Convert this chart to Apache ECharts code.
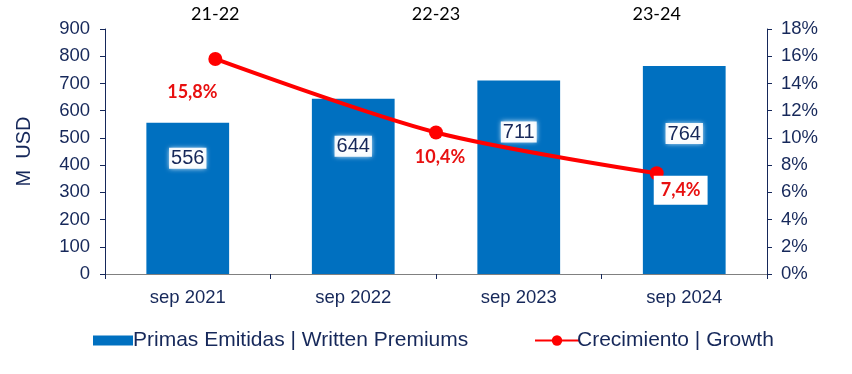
<!DOCTYPE html>
<html>
<head>
<meta charset="utf-8">
<script src="https://cdn.jsdelivr.net/npm/echarts@6/dist/echarts.min.js"></script>
<style>html,body{margin:0;padding:0;background:#fff}#c{width:852px;height:374px}</style>
</head>
<body>
<div id="c"></div>
<script>
const categories = ['sep 2021', 'sep 2022', 'sep 2023', 'sep 2024'];
const periods = ['21-22', '22-23', '23-24'];
const premiums = [556, 644, 711, 764];
const growth = [0.158, 0.104, 0.074];
const barName = 'Primas Emitidas | Written Premiums';
const lineName = 'Crecimiento | Growth';

const navy = '#16285a';
const blue = '#0070c0';
const red = '#ff0000';

const barLabelDist = [25, 37, 41, 57];
const lineLabelOffsets = [[-23, 33], [4, 25], [24, 17]];

const chart = echarts.init(document.getElementById('c'), null, {renderer: 'canvas'});
const fmtPct = v => (v * 100).toFixed(1).replace('.', ',') + '%';

chart.setOption({
  animation: false,
  backgroundColor: '#fff',
  grid: {left: 105, right: 85, top: 29, bottom: 100},
  legend: [
    {left: 88, top: 325, itemWidth: 40, itemHeight: 10, itemGap: 0,
     data: [{name: barName, icon: 'rect'}],
     textStyle: {fontFamily: 'Liberation Sans, Arial', fontSize: 21, color: navy, padding: [0, 0, 0, -5]}},
    {left: 529, top: 325, itemWidth: 44, itemHeight: 13, itemGap: 0,
     data: [lineName],
     textStyle: {fontFamily: 'Liberation Sans, Arial', fontSize: 21, color: navy, padding: [0, 0, 0, -7]}}
  ],
  xAxis: [
    {type: 'category', data: categories, position: 'bottom',
     axisLine: {lineStyle: {color: navy, width: 1}},
     axisTick: {show: true, length: 5, lineStyle: {color: navy}},
     axisLabel: {fontFamily: 'Liberation Sans, Arial', fontSize: 18.5, color: navy, margin: 14}},
    {type: 'category', data: periods, position: 'top',
     axisLine: {lineStyle: {color: '#808080', width: 1}},
     axisTick: {show: false},
     axisLabel: {fontFamily: 'Lato', fontSize: 18, color: '#000', margin: 6}}
  ],
  yAxis: [
    {type: 'value', min: 0, max: 900, interval: 100, position: 'left',
     name: 'M  USD', nameLocation: 'middle', nameRotate: 90, nameGap: 71,
     nameTextStyle: {fontFamily: 'Liberation Sans, Arial', fontSize: 20, color: navy},
     axisLine: {show: true, lineStyle: {color: navy, width: 1}},
     axisTick: {show: true, length: 5, lineStyle: {color: navy}},
     splitLine: {show: false},
     axisLabel: {fontFamily: 'Liberation Sans, Arial', fontSize: 18.5, color: navy, margin: 15}},
    {type: 'value', min: 0, max: 0.18, interval: 0.02, position: 'right',
     axisLine: {show: true, lineStyle: {color: navy, width: 1}},
     axisTick: {show: true, length: 5, lineStyle: {color: navy}},
     splitLine: {show: false},
     axisLabel: {fontFamily: 'Liberation Sans, Arial', fontSize: 18.5, color: navy, margin: 14,
       formatter: v => Math.round(v * 100) + '%'}}
  ],
  series: [
    {name: barName, type: 'bar', xAxisIndex: 0, yAxisIndex: 0, barWidth: '50%',
     itemStyle: {color: blue},
     data: premiums.map((v, i) => ({value: v,
       label: {show: true, position: 'insideTop', distance: barLabelDist[i]}})),
     label: {fontFamily: 'Liberation Sans, Arial', fontSize: 20, color: navy,
       backgroundColor: 'rgba(255,255,255,0.92)', padding: [1, 2, 0, 2],
       shadowColor: '#ffffff', shadowBlur: 5}},
    {name: lineName, type: 'line', xAxisIndex: 1, yAxisIndex: 1, smooth: 0.3,
     symbol: 'circle', symbolSize: 14,
     lineStyle: {color: red, width: 4}, itemStyle: {color: red},
     data: growth.map((v, i) => ({value: v,
       label: {show: true, position: 'inside', offset: lineLabelOffsets[i],
         backgroundColor: i === 2 ? '#fff' : 'transparent',
         padding: i === 2 ? [6, 7, 5, 7] : 0}})),
     label: {formatter: p => fmtPct(p.value), fontFamily: 'Lato', fontWeight: 'bold', fontSize: 18, color: '#e81010'},
     z: 5}
  ]
});
</script>
</body>
</html>
